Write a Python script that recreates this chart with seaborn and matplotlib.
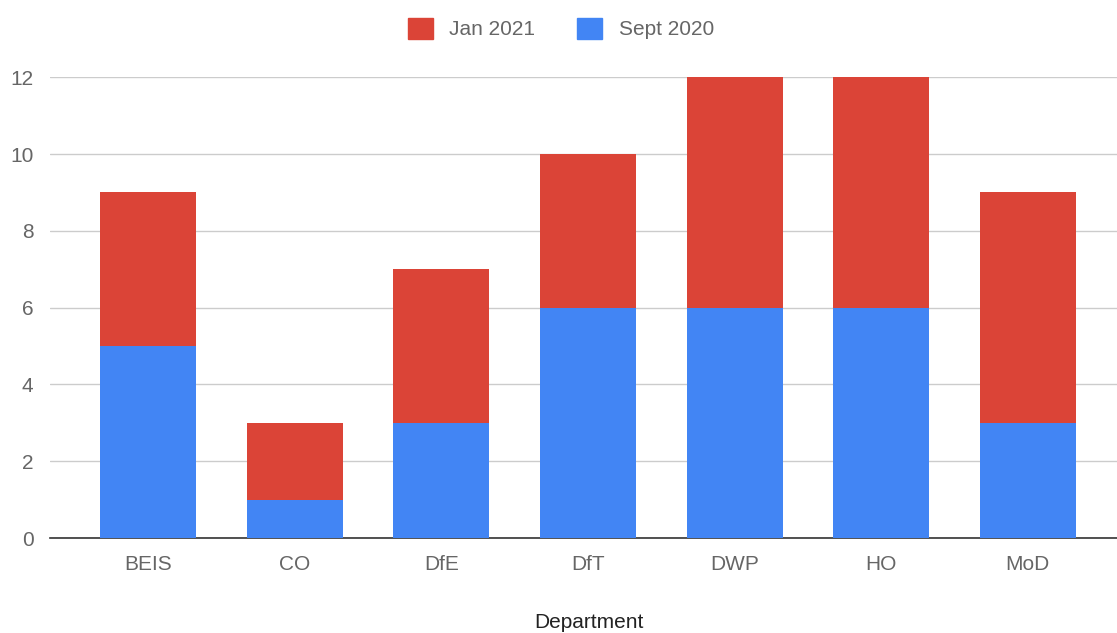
import numpy as np
import matplotlib
matplotlib.use("Agg")
import matplotlib.pyplot as plt
import matplotlib.patches as mpatches
import pandas as pd
import seaborn as sns

# data
departments = ["BEIS", "CO", "DfE", "DfT", "DWP", "HO", "MoD"]
sept_2020 = [5, 1, 3, 6, 6, 6, 3]
jan_2021 = [4, 2, 4, 4, 6, 6, 6]

red = "#db4437"
blue = "#4285f4"
grey = "#666666"

df = pd.DataFrame({"Department": departments, "Sept 2020": sept_2020, "Jan 2021": jan_2021})
df["Total"] = df["Sept 2020"] + df["Jan 2021"]

sns.set_style("white")
plt.rcParams["font.family"] = ["Liberation Sans", "DejaVu Sans"]

fig = plt.figure(figsize=(11.17, 6.33), dpi=100)
ax = fig.add_axes([0.045, 0.15, 0.955, 0.728])

# stacked: draw totals in red, then Sept on top in blue
sns.barplot(data=df, x="Department", y="Total", color=red, width=0.655, saturation=1,
            linewidth=0, ax=ax, zorder=2)
sns.barplot(data=df, x="Department", y="Sept 2020", color=blue, width=0.655, saturation=1,
            linewidth=0, ax=ax, zorder=3)

ax.set_ylim(0, 12)
ax.set_xlim(-0.669, 6.61)
ax.set_yticks(np.arange(0, 13, 2))
ax.yaxis.grid(True, color="#cccccc", linewidth=1)
ax.set_axisbelow(True)
for s in ["top", "right", "left"]:
    ax.spines[s].set_visible(False)
ax.spines["bottom"].set_color("#333333")
ax.spines["bottom"].set_linewidth(1.2)
ax.tick_params(axis="both", length=0, labelsize=15, labelcolor=grey)
ax.tick_params(axis="x", pad=12)
ax.tick_params(axis="y", pad=12)
ax.set_ylabel("")
ax.set_xlabel("")
fig.text(0.527, 0.017, "Department", ha="center", va="center", fontsize=15, color="#222222")

handles = [mpatches.Patch(color=red, label="Jan 2021"), mpatches.Patch(color=blue, label="Sept 2020")]
fig.legend(handles=handles, loc="center", bbox_to_anchor=(0.502, 0.955), ncol=2, frameon=False,
           fontsize=15, labelcolor=grey, handlelength=1.2, handleheight=1.2, columnspacing=2.0, handletextpad=0.8)

fig.savefig("out.png", dpi=100)
